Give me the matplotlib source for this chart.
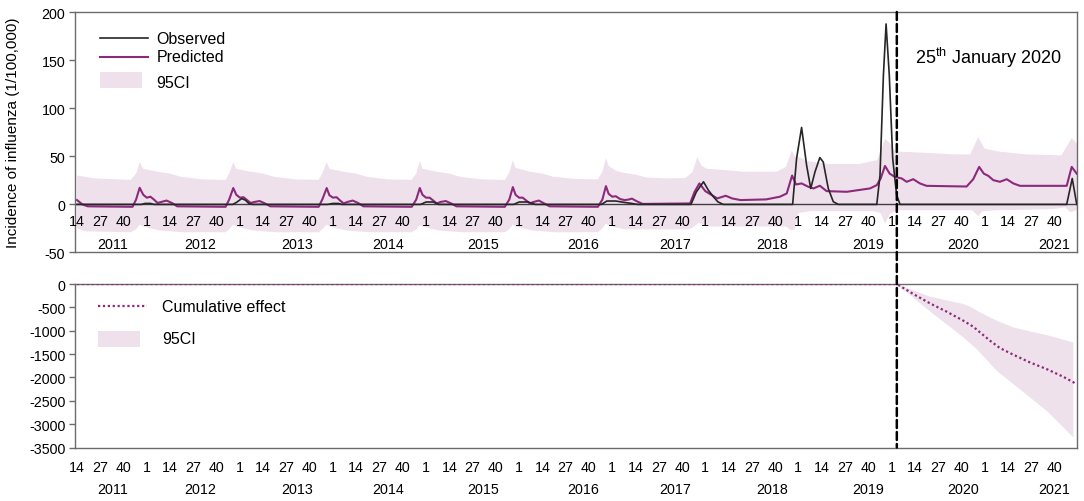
import numpy as np
import matplotlib.pyplot as plt
from matplotlib.patches import Rectangle, ConnectionPatch

plt.rcParams['font.family'] = ['Liberation Sans', 'DejaVu Sans']
plt.rcParams['mathtext.fontset'] = 'custom'
plt.rcParams['mathtext.rm'] = 'Liberation Sans'
plt.rcParams['axes.unicode_minus'] = False

# x axis = week counted from week 14 of 2011 (0) to week 52 of 2021 (558)
n_weeks = 559
years = [2011, 2012, 2013, 2014, 2015, 2016, 2017, 2018, 2019, 2020, 2021]
intervention_wk = 458   # 25 January 2020

# ---- observed incidence (week, value)
obs_wk = [0, 36, 38, 41, 43,
          87, 89, 92, 94, 96, 98,
          140, 143, 146, 148,
          192, 195, 199, 202,
          244, 247, 252, 256,
          293, 296, 301, 306, 310, 313,
          343, 346, 350, 352.7, 355.5, 358, 361,
          399.8, 402, 404.8, 407.6, 409.9, 412.3, 415, 416.9, 419.7, 422.5, 425.3,
          446.8, 448.6, 450.5, 452, 453.8, 455.7, 457.9, 459.8,
          552.9, 556, 558.5]
obs_val = [0, 0, 1, 1, 0,
           0, 2, 6, 4.5, 1, 0,
           0, 1, 1, 0,
           0, 2.5, 2.5, 0,
           0, 2.5, 2.5, 0,
           0, 3.5, 3.5, 2, 1, 0,
           0, 13, 23.5, 14.8, 8, 2.7, 0,
           0, 47.7, 80, 40.7, 16.6, 33.9, 48.7, 44, 16.6, 2.8, 0,
           0, 30, 134, 187.6, 134, 47.7, 9.7, 0,
           0, 27, 0]

# ---- predicted incidence
pred_wk = [0, 3, 6, 31, 33, 35, 37, 39, 41, 43, 45, 47, 50, 53, 56,
           83, 85, 87.3, 89, 91, 93, 95, 97, 99, 102, 105, 108,
           135, 137, 139.5, 141, 143, 145, 147, 149, 151, 154, 157, 160,
           187, 189.5, 191.5, 193, 195, 197, 199, 201, 203, 206, 209, 212,
           239, 241.5, 243.5, 245, 247, 249, 251, 253, 255, 258, 261, 264,
           291, 293.5, 295.5, 297, 299, 301, 303.5, 306, 308, 310, 313, 316,
           342.5, 345, 347.7, 351, 354, 357.7, 362.4, 366, 370.7, 385, 392.7, 396.5,
           399.5, 401.7, 404.8, 408.6, 411.4, 415, 418.8, 430, 443, 446.8, 449,
           451.4, 454, 456.8, 460.7, 463.5, 467.2, 470.9, 474.6, 497, 500.7,
           504, 506.6, 509.1, 511.9, 515.6, 519.4, 523.1, 526.8, 552.9, 555.7, 558.5]
pred_val = [4.5, 0, -2, -2.5, 5, 17.3, 10, 7, 8, 5, 1.5, 2.5, 4, 1.5, -2,
            -2.5, 5, 17, 10, 7, 7.5, 4.5, 1.5, 2.5, 3.5, 1, -2,
            -2.5, 5, 17, 9.5, 7, 7.5, 4, 1, 2.5, 4, 1.5, -2,
            -2.5, 5, 17, 10, 7, 7, 4, 1, 2.5, 3.5, 1, -2,
            -2.5, 5, 18, 10, 7, 7, 4, 1, 2.5, 4, 1, -2,
            -2.5, 5, 19, 11, 8, 8.5, 5.5, 4.5, 5, 6, 3, 0.5,
            1, 13, 21.8, 13.8, 10.4, 6.2, 9, 6.2, 4.5, 5.2, 8, 11.4,
            30, 20.7, 21.8, 18.3, 16.6, 19.4, 13.8, 13.1, 16.6, 20, 27,
            40, 32, 28.7, 27, 23.5, 26.2, 21.8, 19.3, 18.6, 26.2,
            39, 32, 29.7, 25.2, 23.5, 26.2, 21.8, 19.3, 19.3, 39, 32]

# ---- 95% interval of the prediction
ci_hi_wk = [0, 10, 30, 33, 35, 37, 41, 45, 52, 58, 70,
            83, 85, 87.3, 89, 93, 97, 104, 110, 122,
            135, 137, 139.5, 141, 145, 149, 156, 162, 174,
            187, 189.5, 191.5, 193, 197, 201, 208, 214, 226,
            239, 241.5, 243.5, 245, 249, 253, 260, 266, 278,
            291, 293.5, 295.5, 297, 301, 305, 312, 318, 330,
            340, 344, 346.5, 349, 352, 360, 366, 372, 391, 396,
            399.3, 401, 405, 408, 420, 437, 447,
            451.4, 454, 457, 470, 490, 499,
            503.5, 507, 515, 530, 550, 555.7, 558.7]
ci_hi = [30, 27, 25.5, 32, 44, 37, 35.5, 34, 32, 28.7, 26,
         25.5, 32, 44, 37, 35.5, 34, 32, 28.7, 26,
         25.5, 32, 44, 37, 35.5, 34, 32, 28.7, 26,
         25.5, 32, 45, 37, 35.5, 34, 32, 28.7, 26,
         25.5, 33, 46, 38, 36, 34, 32, 28.7, 26.5,
         26, 34, 48, 40, 35, 33, 31, 28, 27,
         27.5, 34, 49, 40, 37, 36, 35, 34, 34, 39,
         56, 50, 48, 45, 42, 42, 46,
         68, 64, 55, 54, 52, 52,
         70, 58, 55, 52, 51, 69, 63]
ci_lo_wk = [0, 5, 30, 33, 35, 37, 41, 46, 52, 60,
            83, 85, 87.3, 89, 93, 98, 104, 112,
            135, 137, 139.5, 141, 145, 150, 156, 164,
            187, 189.5, 191.5, 193, 197, 202, 208, 216,
            239, 241.5, 243.5, 245, 249, 254, 260, 268,
            291, 293.5, 295.5, 297, 301, 306, 312, 320,
            342, 344, 347.5, 350, 355, 365, 396,
            399, 401, 403, 410, 445, 449,
            451.5, 454, 458, 470, 500,
            503.5, 506, 515, 545, 552, 555, 558.7]
ci_lo = [-25, -28, -29, -26, -21, -23, -25, -27, -28, -29,
         -29, -26, -21, -23, -25, -27, -28, -29,
         -29, -26, -21, -23, -25, -27, -28, -29,
         -29, -26, -21, -23, -25, -27, -28, -29,
         -29, -26, -21, -23, -25, -27, -28, -29,
         -29, -25, -20, -22, -24, -26, -26, -26,
         -26, -24, -19, -22, -23, -23, -23,
         -27, -26, -9, -7, -7, -9,
         -20, -10, -6, -6, -6,
         -12, -7, -6, -5, -3, -8, -6]

# ---- cumulative effect and its 95% interval
cum_wk = [0, 457.9, 467.2, 476.5, 485.9, 495.2, 500.7, 504.5, 510.1, 515.6,
          523.1, 532.4, 541.7, 551, 558.5]
cum_val = [0, 0, -214, -414, -593, -786, -914, -1036, -1214, -1371,
           -1514, -1679, -1821, -1986, -2143]
cum_hi_wk = [457.9, 476.5, 495.2, 499, 504.5, 513.8, 523.1, 532.4, 541.7, 556.6]
cum_hi = [0, -271, -429, -486, -607, -786, -929, -1014, -1093, -1250]
cum_lo_wk = [457.9, 476.5, 495.2, 502.6, 513.8, 523.1, 532.4, 541.7, 556.6]
cum_lo = [0, -586, -1143, -1393, -1857, -2143, -2429, -2714, -3286]

# category axis labels
week_ticks = np.arange(0, n_weeks, 13)
week_names = [str((i + 13) % 52 + 1) for i in week_ticks]
year_label_pos = [20.1, 68.7, 122.9, 173.7, 226.8, 282.7, 334.1, 388.3, 441.9, 495.0, 545.8]

band_color = '#efe1ec'
pred_color = '#8b2a7c'
obs_color = '#262626'
frame_color = '#6b6b6b'


def style_axes(ax):
    for s in ax.spines.values():
        s.set_color(frame_color)
        s.set_linewidth(1)
    ax.set_xlim(-1.12, 558.66)
    ax.set_xticks([])
    ax.tick_params(axis='y', length=4, width=1, color=frame_color, pad=3, labelsize=10.3)


def category_labels(ax, y_week, y_year):
    tr = ax.get_xaxis_transform()
    for x, s in zip(week_ticks, week_names):
        ax.text(x, y_week, s, transform=tr, ha='center', va='center', fontsize=10.3)
    for x, yr in zip(year_label_pos, years):
        ax.text(x, y_year, str(yr), transform=tr, ha='center', va='center', fontsize=10.3)


fig = plt.figure(figsize=(10.84, 5.02), dpi=100)
ax1 = fig.add_axes([0.06919, 0.49502, 0.92435, 0.47908])
ax2 = fig.add_axes([0.06919, 0.10657, 0.92435, 0.32570])

# ---------------- top panel
ax1.fill(np.r_[ci_hi_wk, ci_lo_wk[::-1]], np.r_[ci_hi, ci_lo[::-1]],
         color=band_color, lw=0, zorder=1)
ax1.axhline(0, color='#3f3f3f', lw=1, zorder=2)
ax1.plot(pred_wk, pred_val, color=pred_color, lw=1.5, zorder=3)
ax1.plot(obs_wk, obs_val, color=obs_color, lw=1.2, zorder=4)
ax1.set_ylim(-50, 200)
ax1.set_yticks(range(-50, 201, 50))
style_axes(ax1)
category_labels(ax1, 0.129, 0.037)

# legend
ax1.plot([0.025, 0.0729], [0.891, 0.891], transform=ax1.transAxes, color=obs_color, lw=1.2)
ax1.plot([0.025, 0.0729], [0.814, 0.814], transform=ax1.transAxes, color=pred_color, lw=1.5)
ax1.add_patch(Rectangle((0.025, 0.683), 0.0416, 0.066, transform=ax1.transAxes,
                        color=band_color, lw=0))
ax1.text(0.0815, 0.891, 'Observed', transform=ax1.transAxes, va='center', fontsize=11.5)
ax1.text(0.0815, 0.814, 'Predicted', transform=ax1.transAxes, va='center', fontsize=11.5)
ax1.text(0.0815, 0.708, '95CI', transform=ax1.transAxes, va='center', fontsize=11.5)
ax1.text(0.838, 0.812, r'25$^{\rm th}$ January 2020', transform=ax1.transAxes,
         va='center', ha='left', fontsize=13)

# ---------------- bottom panel
ax2.fill(np.r_[cum_hi_wk, cum_lo_wk[::-1]], np.r_[cum_hi, cum_lo[::-1]],
         color=band_color, lw=0, zorder=1)
ax2.plot(cum_wk, cum_val, color=pred_color, lw=1.6, ls=(0, (1, 1.2)), zorder=3)
ax2.set_ylim(-3500, 0)
ax2.set_yticks(range(-3500, 1, 500))
style_axes(ax2)
category_labels(ax2, -0.121, -0.254)

ax2.plot([0.023, 0.0719], [0.864, 0.864], transform=ax2.transAxes, color=pred_color,
         lw=1.6, ls=(0, (1, 1.2)))
ax2.add_patch(Rectangle((0.023, 0.613), 0.042, 0.101, transform=ax2.transAxes,
                        color=band_color, lw=0))
ax2.text(0.0868, 0.864, 'Cumulative effect', transform=ax2.transAxes, va='center', fontsize=11.5)
ax2.text(0.0868, 0.664, '95CI', transform=ax2.transAxes, va='center', fontsize=11.5)

# intervention line across both panels
con = ConnectionPatch(xyA=(intervention_wk, 200), coordsA=ax1.transData,
                      xyB=(intervention_wk, -3500), coordsB=ax2.transData,
                      color='black', lw=1.8, ls=(0, (3.2, 1.6)), zorder=10)
fig.add_artist(con)

fig.text(13.3 / 1084, 1 - 133 / 502, 'Incidence of influenza (1/100,000)',
         rotation=90, va='center', ha='center', fontsize=11)

fig.savefig('out.png', dpi=100)
